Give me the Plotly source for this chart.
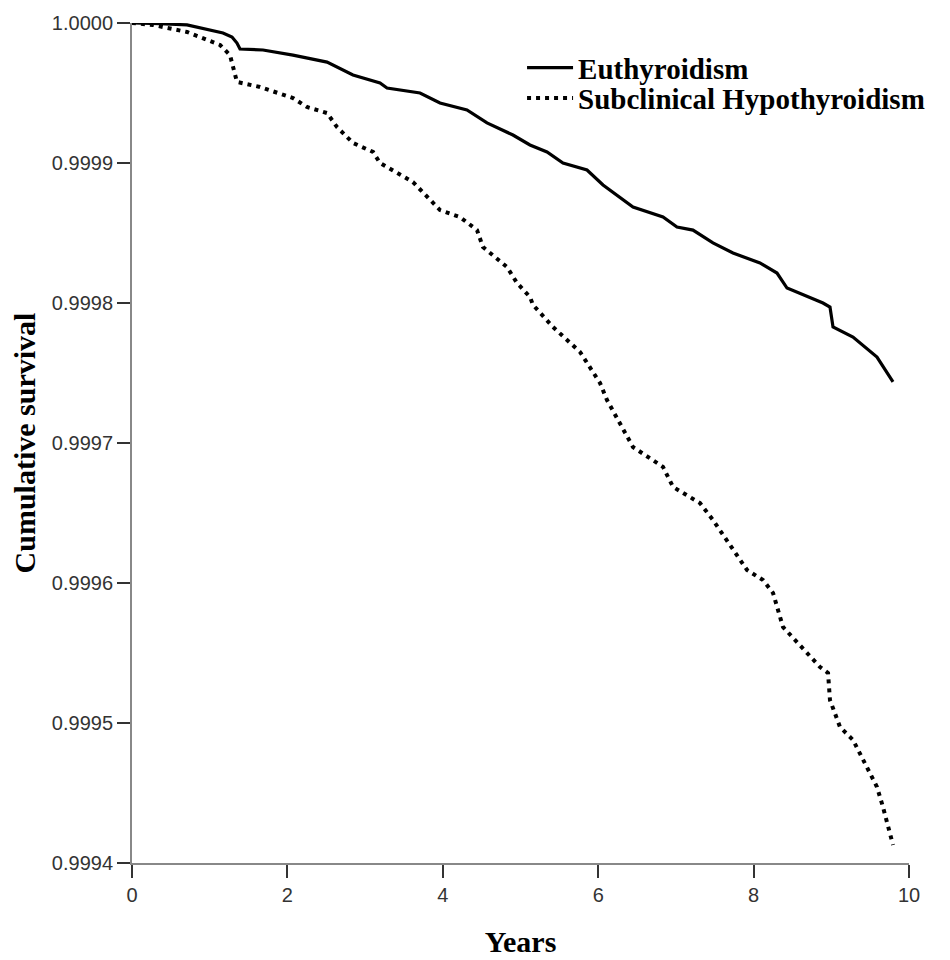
import plotly.graph_objects as go

# Euthyroidism
eu_years = [0.000, 0.360, 0.708, 1.171, 1.287, 1.351, 1.390, 1.686, 2.072, 2.510, 2.844, 3.192,
            3.282, 3.707, 3.964, 4.311, 4.569, 4.903, 5.122, 5.341, 5.547, 5.856, 6.062, 6.448,
            6.834, 7.014, 7.220, 7.477, 7.735, 8.082, 8.301, 8.430, 8.893, 8.983, 9.022, 9.279,
            9.588, 9.794]
eu_surv = [1.0000000, 0.9999996, 0.9999986, 0.9999929, 0.9999900, 0.9999857, 0.9999814, 0.9999807,
           0.9999771, 0.9999721, 0.9999629, 0.9999571, 0.9999536, 0.9999500, 0.9999429, 0.9999379,
           0.9999286, 0.9999200, 0.9999129, 0.9999079, 0.9999000, 0.9998950, 0.9998843, 0.9998686,
           0.9998614, 0.9998543, 0.9998521, 0.9998429, 0.9998357, 0.9998286, 0.9998214, 0.9998107,
           0.9998000, 0.9997971, 0.9997829, 0.9997757, 0.9997614, 0.9997436]

# Subclinical Hypothyroidism
sh_years = [0.000, 0.270, 0.708, 1.133, 1.261, 1.351, 1.647, 2.072, 2.252, 2.510, 2.638, 2.844,
            3.102, 3.192, 3.616, 3.964, 4.221, 4.440, 4.517, 4.826, 4.955, 5.122, 5.161, 5.418,
            5.766, 6.023, 6.113, 6.448, 6.834, 6.963, 7.310, 7.477, 7.915, 8.121, 8.250, 8.378,
            8.855, 8.958, 8.983, 9.112, 9.279, 9.588, 9.665, 9.794]
sh_surv = [1.0000000, 0.9999986, 0.9999936, 0.9999843, 0.9999771, 0.9999579, 0.9999543, 0.9999464,
           0.9999400, 0.9999357, 0.9999257, 0.9999143, 0.9999079, 0.9999000, 0.9998864, 0.9998664,
           0.9998614, 0.9998521, 0.9998400, 0.9998257, 0.9998143, 0.9998043, 0.9997986, 0.9997829,
           0.9997650, 0.9997429, 0.9997307, 0.9996971, 0.9996829, 0.9996686, 0.9996571, 0.9996450,
           0.9996093, 0.9996021, 0.9995929, 0.9995686, 0.9995400, 0.9995357, 0.9995164, 0.9994971,
           0.9994879, 0.9994543, 0.9994400, 0.9994129]

x_ticks = [0, 2, 4, 6, 8, 10]
y_ticks = [0.9994, 0.9995, 0.9996, 0.9997, 0.9998, 0.9999, 1.0000]

fig = go.Figure()
fig.add_trace(go.Scatter(x=eu_years, y=eu_surv, mode="lines", name="Euthyroidism",
                         line=dict(color="black", width=3.2), legend="legend"))
fig.add_trace(go.Scatter(x=sh_years, y=sh_surv, mode="lines", name="Subclinical Hypothyroidism",
                         line=dict(color="black", width=4, dash="4px,5px"), legend="legend2"))

axis_common = dict(showgrid=False, zeroline=False, showline=True, linecolor="#888888", linewidth=2,
                   ticks="outside", ticklen=13, tickwidth=2, tickcolor="#333333", automargin=False,
                   tickfont=dict(family="Liberation Sans, Arial", size=20, color="#333333"))

fig.update_xaxes(range=[0, 10], tickvals=x_ticks, ticktext=[str(v) for v in x_ticks],
                 title=dict(text="<b>Years</b>", font=dict(family="Liberation Serif, Times New Roman", size=30, color="black"),
                            standoff=26),
                 **axis_common)
fig.update_yaxes(range=[0.9994, 1.0000], tickvals=y_ticks, ticktext=[f"{v:.4f}" for v in y_ticks],
                 title=dict(text="<b>Cumulative survival</b>", font=dict(family="Liberation Serif, Times New Roman", size=30, color="black"),
                            standoff=10),
                 **axis_common)

leg_font = dict(family="Liberation Serif, Times New Roman", size=29, color="black", weight="bold")
fig.update_layout(
    width=942, height=952,
    margin=dict(l=124, r=41, t=15, b=97),
    plot_bgcolor="white", paper_bgcolor="white",
    showlegend=True,
    legend=dict(x=0.502, y=0.977, xanchor="left", yanchor="top", font=leg_font,
                bgcolor="rgba(0,0,0,0)", itemwidth=46, borderwidth=0),
    legend2=dict(x=0.502, y=0.941, xanchor="left", yanchor="top", font=leg_font,
                 bgcolor="rgba(0,0,0,0)", itemwidth=46, borderwidth=0),
)

fig.write_html("out.html")
